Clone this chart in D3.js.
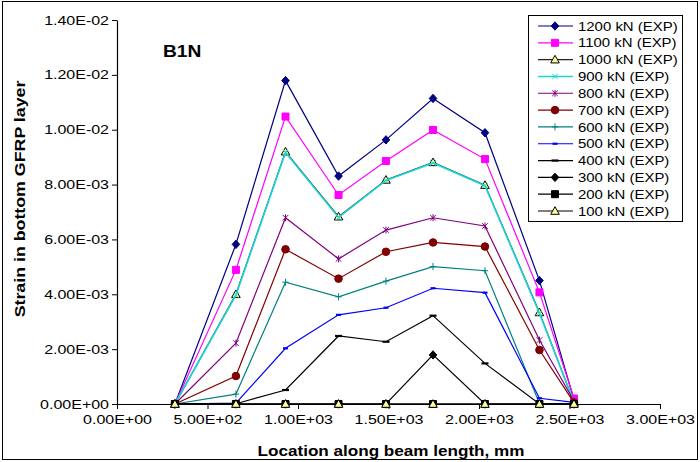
<!DOCTYPE html>
<html>
<head>
<meta charset="utf-8">
<script src="https://cdn.jsdelivr.net/npm/d3@7"></script>
<style>
  body { margin: 0; background: #fff; }
  svg { display: block; font-family: "Liberation Sans", Arial, sans-serif; }
</style>
</head>
<body>
<div id="chart"></div>
<script>
const WIDTH = 700;
const HEIGHT = 462;

// gauge locations along the beam, mm
const locations = [320, 657, 931, 1224, 1486, 1746, 2033, 2334, 2525];

// strain per load step (x 1e-3)
const s1200 = [0, 5.82, 11.79, 8.31, 9.63, 11.14, 9.89, 4.50, 0.15];
const s1100 = [0, 4.89, 10.48, 7.62, 8.86, 9.99, 8.93, 4.07, 0.20];
const s1000 = [0, 4.00, 9.20, 6.83, 8.17, 8.81, 7.98, 3.34, 0.05];
const s900  = [0, 3.97, 9.17, 6.80, 8.15, 8.79, 7.96, 3.31, 0.05];
const s800  = [0, 2.22, 6.79, 5.29, 6.34, 6.79, 6.49, 2.33, 0.10];
const s700  = [0, 1.02, 5.64, 4.57, 5.55, 5.89, 5.74, 1.97, 0.05];
const s600  = [0, 0.36, 4.44, 3.91, 4.48, 5.01, 4.86, 0.02, 0.00];
const s500  = [0, 0.03, 2.03, 3.25, 3.51, 4.22, 4.06, 0.21, 0.06];
const s400  = [0, 0.01, 0.51, 2.48, 2.27, 3.22, 1.48, 0.00, 0.00];
const s300  = [0, 0, 0, 0, 0, 1.79, 0, 0, 0];
const s200  = [0, 0, 0, 0, 0, 0, 0, 0, 0];
const s100  = [0, 0, 0, 0, 0, 0, 0, 0, 0];

const seriesNames = ["1200 kN (EXP)", "1100 kN (EXP)", "1000 kN (EXP)", "900 kN (EXP)",
  "800 kN (EXP)", "700 kN (EXP)", "600 kN (EXP)", "500 kN (EXP)", "400 kN (EXP)",
  "300 kN (EXP)", "200 kN (EXP)", "100 kN (EXP)"];
const seriesValues = [s1200, s1100, s1000, s900, s800, s700, s600, s500, s400, s300, s200, s100];

const xTicks = [0, 500, 1000, 1500, 2000, 2500, 3000];
const yTicks = [0, 0.002, 0.004, 0.006, 0.008, 0.010, 0.012, 0.014];

// look of each series: line colour, marker kind, marker fill
const styles = [
  {color: "#000080", marker: "diamond", fill: "#000080"},
  {color: "#ff00ff", marker: "square", fill: "#ff00ff"},
  {color: "#222222", marker: "triangle", fill: "#ffff99"},
  {color: "#19d6d6", marker: "x", fill: "none", width: 1.6},
  {color: "#800080", marker: "star", fill: "none"},
  {color: "#800000", marker: "circle", fill: "#800000"},
  {color: "#008080", marker: "plus", fill: "none"},
  {color: "#0000ff", marker: "dashSmall", fill: "none"},
  {color: "#000000", marker: "dash", fill: "none"},
  {color: "#000000", marker: "diamond", fill: "#000000"},
  {color: "#000000", marker: "square", fill: "#000000"},
  {color: "#000000", marker: "triangle", fill: "#ffff99"}
];

const markerPath = {
  diamond: "M0,-4.2L3.8,0L0,4.2L-3.8,0Z",
  square: "M-3.5,-3.5H3.5V3.5H-3.5Z",
  triangle: "M0,-4.3L4.3,3.3H-4.3Z",
  circle: "M3.8,0A3.8,3.8 0 1,1 -3.8,0A3.8,3.8 0 1,1 3.8,0Z",
  x: "M-2.8,-2.8L2.8,2.8M-2.8,2.8L2.8,-2.8",
  star: "M-2.8,-2.8L2.8,2.8M-2.8,2.8L2.8,-2.8M0,-3.5V3.5",
  plus: "M-3.2,0H3.2M0,-3.5V3.5",
  dashSmall: "M-2.5,0H2.5",
  dash: "M-3.5,0H3.5"
};

const fmtE = (v) => {
  const parts = v.toExponential(2).split("e");
  const e = Number(parts[1]);
  return parts[0] + "E" + (e < 0 ? "-" : "+") + String(Math.abs(e)).padStart(2, "0");
};

const svg = d3.select("#chart").append("svg")
  .attr("width", WIDTH)
  .attr("height", HEIGHT);

svg.append("rect")
  .attr("x", 2.5).attr("y", 1.5)
  .attr("width", 695).attr("height", 458)
  .attr("fill", "#fff")
  .attr("stroke", "#000")
  .attr("stroke-width", 1);

const x = d3.scaleLinear().domain([0, 3000]).range([117, 660]);
const y = d3.scaleLinear().domain([0, 0.014]).range([404, 20]);

const X_STRETCH = 1.28;

const xAxis = svg.append("g")
  .attr("transform", "translate(0,404)")
  .call(d3.axisBottom(x).tickValues(xTicks).tickFormat(fmtE).tickSize(5).tickSizeOuter(0).tickPadding(6));

const yAxis = svg.append("g")
  .attr("transform", "translate(117,0)")
  .call(d3.axisLeft(y).tickValues(yTicks).tickFormat(fmtE).tickSize(5).tickSizeOuter(0));

[xAxis, yAxis].forEach((g) => {
  g.attr("font-family", null).attr("font-size", null);
  g.select(".domain").attr("stroke", "#000").attr("stroke-width", 1.2);
  g.selectAll(".tick line").attr("stroke", "#000");
  g.selectAll(".tick text")
    .attr("fill", "#000")
    .style("font-size", "12.5px");
});
xAxis.selectAll(".tick text")
  .attr("transform", `scale(${X_STRETCH},1)`);
yAxis.selectAll(".tick text")
  .attr("x", -8 / X_STRETCH)
  .attr("transform", `scale(${X_STRETCH},1)`);

// lines + markers, first series underneath
const plot = svg.append("g");
seriesValues.forEach((vals, i) => {
  const st = styles[i];
  const pts = vals.map((v, j) => ({x: locations[j], y: v / 1000}));
  const g = plot.append("g");
  g.append("path")
    .datum(pts)
    .attr("fill", "none")
    .attr("stroke", st.color)
    .attr("stroke-width", st.width || 1.2)
    .attr("d", d3.line().x(d => x(d.x)).y(d => y(d.y)));
  g.selectAll("path.mark")
    .data(pts)
    .join("path")
    .attr("class", "mark")
    .attr("transform", d => `translate(${x(d.x)},${y(d.y)})`)
    .attr("d", markerPath[st.marker])
    .attr("fill", st.fill)
    .attr("stroke", st.marker === "triangle" ? "#000" : st.color)
    .attr("stroke-width", st.marker.startsWith("dash") ? 2.2 : 1);
});

// labels
svg.append("text")
  .attr("transform", "translate(163,57) scale(1.2,1)")
  .attr("font-weight", "bold")
  .attr("font-size", 16)
  .text("B1N");

svg.append("text")
  .attr("transform", "translate(391,456) scale(1.18,1)")
  .attr("text-anchor", "middle")
  .attr("font-weight", "bold")
  .attr("font-size", 14.5)
  .text("Location along beam length, mm");

svg.append("text")
  .attr("transform", "translate(25,199) rotate(-90) scale(1.27,1)")
  .attr("text-anchor", "middle")
  .attr("font-weight", "bold")
  .attr("font-size", 14)
  .text("Strain in bottom GFRP layer");

// legend
const legend = svg.append("g");
legend.append("rect")
  .attr("x", 528.5).attr("y", 15.5)
  .attr("width", 154).attr("height", 206)
  .attr("fill", "#fff")
  .attr("stroke", "#000");

const rowY = d3.scalePoint().domain(seriesNames).range([26, 211]);
const rows = legend.selectAll("g.row")
  .data(seriesNames)
  .join("g")
  .attr("class", "row")
  .attr("transform", d => `translate(0,${rowY(d)})`);

rows.append("line")
  .attr("x1", 538).attr("x2", 573)
  .attr("stroke", (d, i) => styles[i].color)
  .attr("stroke-width", (d, i) => styles[i].width || 1.2);
rows.append("path")
  .attr("transform", "translate(555,0)")
  .attr("d", (d, i) => markerPath[styles[i].marker])
  .attr("fill", (d, i) => styles[i].fill)
  .attr("stroke", (d, i) => styles[i].marker === "triangle" ? "#000" : styles[i].color)
  .attr("stroke-width", (d, i) => styles[i].marker.startsWith("dash") ? 2.2 : 1);
rows.append("text")
  .attr("transform", "translate(578,4.6) scale(1.15,1)")
  .attr("font-size", 13)
  .text(d => d);
</script>
</body>
</html>
